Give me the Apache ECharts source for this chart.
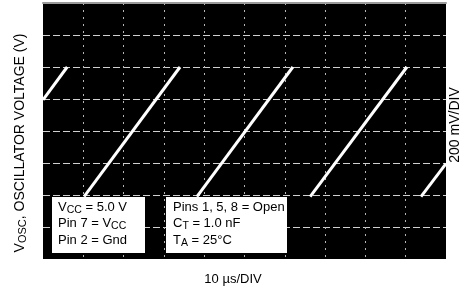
<!DOCTYPE html>
<html>
<head>
<meta charset="utf-8">
<script src="https://cdn.jsdelivr.net/npm/echarts@6/dist/echarts.min.js"></script>
<style>
  html, body { margin: 0; padding: 0; background: #ffffff; }
  #chart { width: 467px; height: 291px; }
</style>
</head>
<body>
<div id="chart"></div>
<script>
// sweep: 10 us/div, 10 divisions; vertical: 200 mV/div, 8 divisions
const timeTicksUs = [0, 10, 20, 30, 40, 50, 60, 70, 80, 90, 100]
const voltTicksMv = [0, 200, 400, 600, 800, 1000, 1200, 1400, 1600]

// each ramp of the sawtooth (discharge is too fast to show on the trace)
const rampStartUs = [0, 10.2, 38.2, 66.3, 93.8]
const rampEndUs = [6.0, 34.0, 62.0, 90.3, 100]
const rampStartMv = [995, 390, 390, 390, 390]
const rampEndMv = [1200, 1200, 1200, 1200, 596]

const font = 'Liberation Sans, Arial, Helvetica, sans-serif'

const chart = echarts.init(document.getElementById('chart'))

const series = rampStartUs.map((t0, i) => ({
  type: 'line',
  data: [
    [t0, rampStartMv[i]],
    [rampEndUs[i], rampEndMv[i]],
  ],
  showSymbol: false,
  silent: true,
  lineStyle: { color: '#ffffff', width: 3 },
}))

const boxText = {
  fontFamily: font,
  fontSize: 13,
  fill: '#000000',
  lineHeight: 16.5,
  rich: {
    n: { fontFamily: font, fontSize: 13, lineHeight: 16.5, fill: '#000000' },
    sub: { fontFamily: font, fontSize: 10.5, lineHeight: 11, verticalAlign: 'bottom', fill: '#000000' },
  },
}

chart.setOption({
  animation: false,
  backgroundColor: '#ffffff',
  grid: {
    left: 43,
    right: 21,
    top: 3,
    bottom: 32,
    show: true,
    backgroundColor: '#000000',
    borderWidth: 0,
  },
  xAxis: [
    {
      type: 'value',
      min: timeTicksUs[0],
      max: timeTicksUs[timeTicksUs.length - 1],
      interval: 10,
      axisLine: { show: false },
      axisTick: { show: false },
      axisLabel: { show: false },
      splitLine: {
        showMinLine: false,
        showMaxLine: false,
        lineStyle: { color: '#b5b5b5', width: 1, type: [2, 5] },
      },
    },
    {
      type: 'value',
      position: 'top',
      min: 0,
      max: 100,
      axisLine: { show: true, lineStyle: { color: '#9a9a9a', width: 2 } },
      axisTick: { show: false },
      axisLabel: { show: false },
      splitLine: { show: false },
    },
  ],
  yAxis: {
    type: 'value',
    min: voltTicksMv[0],
    max: voltTicksMv[voltTicksMv.length - 1],
    interval: 200,
    axisLine: { show: false },
    axisTick: { show: false },
    axisLabel: { show: false },
    splitLine: {
      showMinLine: false,
      showMaxLine: false,
      lineStyle: { color: '#d0d0d0', width: 1, type: [7, 3] },
    },
  },
  series,
  graphic: [
    {
      type: 'text',
      x: 20,
      y: 143,
      rotation: Math.PI / 2,
      style: {
        text: '{n|V}{sub|OSC}{n|, OSCILLATOR VOLTAGE (V)}',
        align: 'center',
        verticalAlign: 'middle',
        rich: {
          n: { fontFamily: font, fontSize: 14, lineHeight: 16, fill: '#000000' },
          sub: { fontFamily: font, fontSize: 11, lineHeight: 11, verticalAlign: 'bottom', fill: '#000000' },
        },
      },
    },
    {
      type: 'text',
      x: 455,
      y: 125,
      rotation: Math.PI / 2,
      style: {
        text: '200 mV/DIV',
        align: 'center',
        verticalAlign: 'middle',
        fontFamily: font,
        fontSize: 14,
        fill: '#000000',
      },
    },
    {
      type: 'text',
      x: 233,
      y: 279,
      style: {
        text: '10 \u00b5s/DIV',
        align: 'center',
        verticalAlign: 'middle',
        fontFamily: font,
        fontSize: 13,
        fill: '#000000',
      },
    },
    {
      type: 'rect',
      shape: { x: 52, y: 197, width: 93, height: 56 },
      style: { fill: '#ffffff' },
      z: 100,
    },
    {
      type: 'text',
      x: 58,
      y: 199,
      z: 101,
      style: Object.assign({}, boxText, {
        text: '{n|V}{sub|CC}{n| = 5.0 V}\n{n|Pin 7 = V}{sub|CC}\n{n|Pin 2 = Gnd}',
        align: 'left',
        verticalAlign: 'top',
      }),
    },
    {
      type: 'rect',
      shape: { x: 166, y: 197, width: 121, height: 56 },
      style: { fill: '#ffffff' },
      z: 100,
    },
    {
      type: 'text',
      x: 173,
      y: 199,
      z: 101,
      style: Object.assign({}, boxText, {
        text: '{n|Pins 1, 5, 8 = Open}\n{n|C}{sub|T}{n| = 1.0 nF}\n{n|T}{sub|A}{n| = 25\u00b0C}',
        align: 'left',
        verticalAlign: 'top',
      }),
    },
  ],
})
</script>
</body>
</html>
